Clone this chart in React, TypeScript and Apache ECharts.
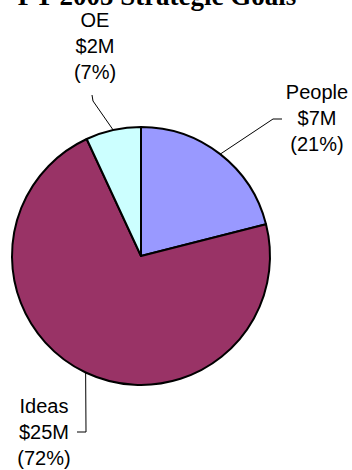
import React, { useEffect, useRef } from "react";
import * as echarts from "echarts";

const titleText = "FY 2005 Strategic Goals";
const categories = ["People", "Ideas", "OE"];
const values = [7.3, 25.0, 2.4];
const amountLabels = ["$7M", "$25M", "$2M"];
const percentLabels = ["(21%)", "(72%)", "(7%)"];
const colors = ["#9999FF", "#993366", "#CCFFFF"];

// label placement (layout only)
const labelPlacement = [
  { x: 317, y: 118, bend: [273, 119], end: [282, 119] },
  { x: 44, y: 432, bend: [86, 432], end: [77, 432] },
  { x: 95, y: 46, bend: [93, 101], end: [92, 95] },
];

export default function App() {
  const ref = useRef<HTMLDivElement>(null);
  useEffect(() => {
    document.body.style.margin = "0";
    const chart = echarts.init(ref.current!, null, { renderer: "svg" });
    chart.setOption({
      animation: false,
      backgroundColor: "#ffffff",
      graphic: [
        {
          type: "text",
          style: {
            text: titleText,
            x: 157,
            y: -4,
            align: "center",
            verticalAlign: "middle",
            font: "bold 27px 'Liberation Serif', 'Times New Roman', serif",
            fill: "#000000",
          },
        },
      ],
      series: [
        {
          type: "pie",
          center: [141, 256],
          radius: 129,
          startAngle: 90,
          clockwise: true,
          data: categories.map((c, i) => ({
            name: c,
            value: values[i],
            itemStyle: { color: colors[i] },
          })),
          itemStyle: { borderColor: "#000000", borderWidth: 2 },
          emphasis: { disabled: true },
          label: {
            show: true,
            position: "outside",
            overflow: "none",
            width: 120,
            formatter: (p: any) =>
              `${categories[p.dataIndex]}\n${amountLabels[p.dataIndex]}\n${percentLabels[p.dataIndex]}`,
            fontFamily: "'Liberation Sans', Arial, sans-serif",
            fontSize: 20,
            lineHeight: 26,
            color: "#000000",
            align: "center",
          },
          labelLine: {
            show: true,
            lineStyle: { color: "#000000", width: 1 },
          },
          labelLayout: (params: any) => {
            const pl = labelPlacement[params.dataIndex];
            const start =
              params.labelLinePoints && params.labelLinePoints[0]
                ? params.labelLinePoints[0]
                : pl.bend;
            return {
              x: pl.x,
              y: pl.y,
              align: "center",
              verticalAlign: "middle",
              labelLinePoints: [start, pl.bend, pl.end],
            };
          },
        },
      ],
    });
    return () => chart.dispose();
  }, []);
  return (
    <div
      ref={ref}
      style={{ width: 352, height: 470, position: "absolute", left: 0, top: 0 }}
    />
  );
}
